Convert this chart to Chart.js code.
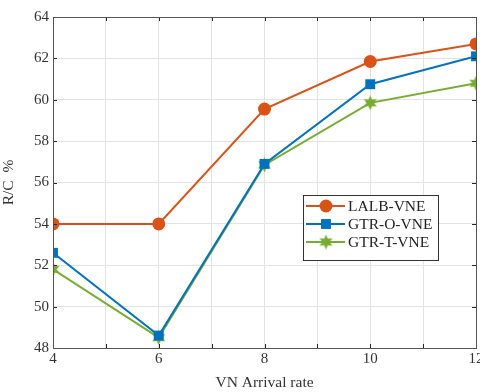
<!DOCTYPE html>
<html>
<head>
<meta charset="utf-8">
<script src="https://cdn.jsdelivr.net/npm/chart.js@4/dist/chart.umd.min.js"></script>
<style>
  html, body { margin: 0; padding: 0; background: #fff; overflow: hidden; }
  #wrap { width: 480px; height: 392px; overflow: hidden; }
</style>
</head>
<body>
<div id="wrap"><canvas id="myChart" width="500" height="392"></canvas></div>
<script>
const rates = [4, 6, 8, 10, 12];
const lalb = [54.0, 54.0, 59.55, 61.85, 62.7];
const gtrO = [52.6, 48.6, 56.9, 60.75, 62.1];
const gtrT = [51.8, 48.5, 56.85, 59.85, 60.8];
const names = ["LALB-VNE", "GTR-O-VNE", "GTR-T-VNE"];

const COLORS = {
  orange: 'rgb(217, 83, 25)',
  blue: 'rgb(0, 114, 189)',
  green: 'rgb(119, 172, 48)'
};

// filled six point star for the green series
function makeStar(size, color) {
  let c = document.createElement('canvas');
  c.width = size; c.height = size;
  let ctx = c.getContext('2d');
  let cx = size / 2, cy = size / 2, ro = size / 2, ri = size / 4;
  ctx.beginPath();
  for (let i = 0; i < 12; i++) {
    let r = i % 2 == 0 ? ro : ri;
    let a = -Math.PI / 2 + i * Math.PI / 6;
    ctx.lineTo(cx + r * Math.cos(a), cy + r * Math.sin(a));
  }
  ctx.closePath();
  ctx.fillStyle = color;
  ctx.fill();
  return c;
}
const starImg = makeStar(15, COLORS.green);

function pts(arr) {
  return rates.map((r, i) => ({x: r, y: arr[i]}));
}

const data = {
  datasets: [
    { label: names[0], data: pts(lalb), borderColor: COLORS.orange, backgroundColor: COLORS.orange,
      pointStyle: 'circle', pointRadius: 6.5, borderWidth: 2, pointBorderWidth: 0 },
    { label: names[1], data: pts(gtrO), borderColor: COLORS.blue, backgroundColor: COLORS.blue,
      pointStyle: 'rect', pointRadius: 7, borderWidth: 2, pointBorderWidth: 0 },
    { label: names[2], data: pts(gtrT), borderColor: COLORS.green, backgroundColor: COLORS.green,
      pointStyle: starImg, pointRadius: 7, borderWidth: 2, pointBorderWidth: 0 }
  ]
};

const boxPlugin = {
  id: 'box',
  afterDatasetsDraw(chart) {
    const {ctx, chartArea: a, scales} = chart;
    ctx.save();
    ctx.strokeStyle = '#262626';
    ctx.lineWidth = 1;
    // inward ticks
    ctx.beginPath();
    scales.x.ticks.forEach(t => {
      let px = Math.round(scales.x.getPixelForValue(t.value)) + 0.5;
      ctx.moveTo(px, a.bottom); ctx.lineTo(px, a.bottom - 4);
      ctx.moveTo(px, a.top); ctx.lineTo(px, a.top + 4);
    });
    scales.y.ticks.forEach(t => {
      let py = Math.round(scales.y.getPixelForValue(t.value)) + 0.5;
      ctx.moveTo(a.left, py); ctx.lineTo(a.left + 4, py);
      ctx.moveTo(a.right, py); ctx.lineTo(a.right - 4, py);
    });
    ctx.stroke();
    ctx.strokeStyle = '#555';
    ctx.strokeRect(Math.round(a.left) + 0.5, Math.round(a.top) + 0.5,
      Math.round(a.right - a.left), Math.round(a.bottom - a.top));
    ctx.restore();
  },
  afterDraw(chart) {
    // legend box inside the plot
    const ctx = chart.ctx;
    ctx.save();
    const bx = 303, by = 195, bw = 135, bh = 65;
    ctx.fillStyle = '#fff';
    ctx.fillRect(bx, by, bw, bh);
    ctx.strokeStyle = '#333';
    ctx.lineWidth = 1;
    ctx.strokeRect(bx + 0.5, by + 0.5, bw, bh);
    ctx.font = '15.5px "Liberation Serif", serif';
    ctx.textBaseline = 'middle';
    chart.data.datasets.forEach((ds, i) => {
      let y = 206 + i * 18;
      ctx.strokeStyle = ds.borderColor;
      ctx.lineWidth = 2;
      ctx.beginPath(); ctx.moveTo(306, y); ctx.lineTo(345, y); ctx.stroke();
      ctx.fillStyle = ds.backgroundColor;
      Chart.helpers.drawPoint(ctx, {pointStyle: ds.pointStyle, radius: ds.pointRadius, borderWidth: 0}, 326, y);
      ctx.fillStyle = '#222';
      ctx.fillText(ds.label, 348, y + 1);
    });
    ctx.restore();
  }
};

const config = {
  type: 'line',
  data: data,
  options: {
    responsive: false,
    animation: false,
    layout: { padding: { top: 17, right: 24, left: 0, bottom: 0 } },
    plugins: {
      legend: { display: false },
      tooltip: { enabled: false }
    },
    scales: {
      x: {
        type: 'linear', min: 4, max: 12,
        ticks: { stepSize: 1, autoSkip: false, maxRotation: 0, color: '#333', padding: 2,
          font: { family: '"Liberation Serif", serif', size: 15 },
          callback: v => (v % 2 == 0 ? v : '') },
        grid: { color: '#e3e3e3', drawTicks: false },
        border: { display: false },
        title: { display: true, text: 'VN Arrival rate', color: '#333', padding: 0,
          font: { family: '"Liberation Serif", serif', size: 15.5 } },
        afterFit(s) { s.height = 44; }
      },
      y: {
        min: 48, max: 64,
        ticks: { stepSize: 2, color: '#333', padding: 4,
          font: { family: '"Liberation Serif", serif', size: 15 } },
        grid: { color: '#e3e3e3', drawTicks: false },
        border: { display: false },
        title: { display: true, text: 'R/C  %', color: '#333', padding: 0,
          font: { family: '"Liberation Serif", serif', size: 15.5 } },
        afterFit(s) { s.width = 53; }
      }
    }
  },
  plugins: [boxPlugin]
};

const myChart = new Chart(document.getElementById('myChart'), config);
</script>
</body>
</html>
